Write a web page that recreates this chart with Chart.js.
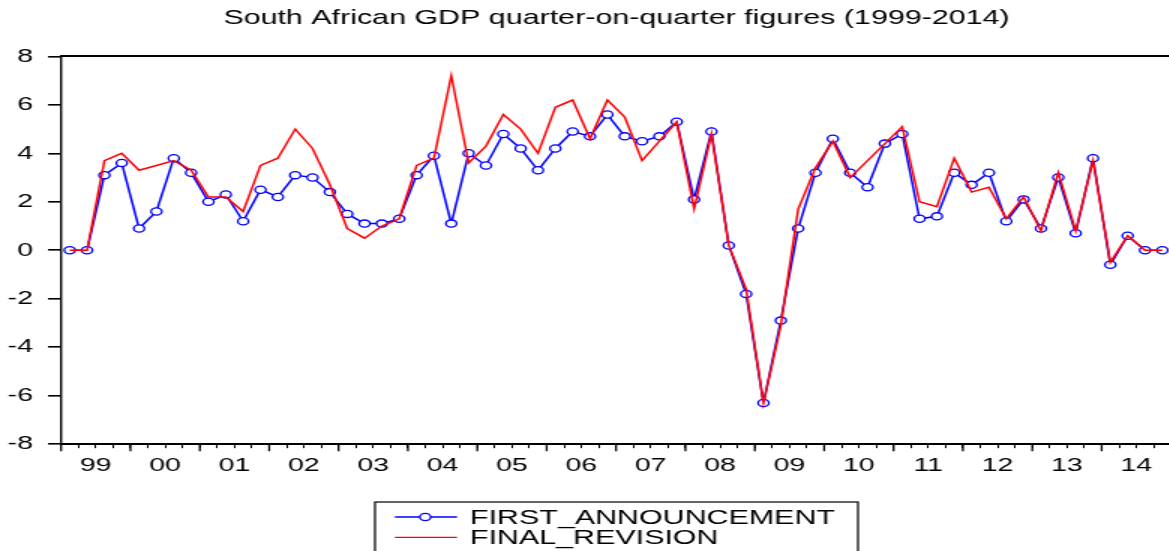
<!DOCTYPE html>
<html>
<head>
<meta charset="utf-8">
<script src="https://cdn.jsdelivr.net/npm/chart.js@4.4.0/dist/chart.umd.min.js"></script>
<style>
html, body { margin: 0; padding: 0; overflow: hidden; background: #fff; }
/* the original graph is stretched sideways, so the canvas is drawn narrow and widened */
#chart { display: block; width: 1233px !important; height: 551px !important; }
</style>
</head>
<body>
<canvas id="chart" width="822" height="551"></canvas>
<script>
var years = ['99', '00', '01', '02', '03', '04', '05', '06',
             '07', '08', '09', '10', '11', '12', '13', '14'];

var firstAnnouncement = [0.0, 0.0, 3.1, 3.6, 0.9, 1.6, 3.8, 3.2,
                         2.0, 2.3, 1.2, 2.5, 2.2, 3.1, 3.0, 2.4,
                         1.5, 1.1, 1.1, 1.3, 3.1, 3.9, 1.1, 4.0,
                         3.5, 4.8, 4.2, 3.3, 4.2, 4.9, 4.7, 5.6,
                         4.7, 4.5, 4.7, 5.3, 2.1, 4.9, 0.2, -1.8,
                         -6.3, -2.9, 0.9, 3.2, 4.6, 3.2, 2.6, 4.4,
                         4.8, 1.3, 1.4, 3.2, 2.7, 3.2, 1.2, 2.1,
                         0.9, 3.0, 0.7, 3.8, -0.6, 0.6, 0.0, 0.0];

var finalRevision = [0.0, 0.0, 3.7, 4.0, 3.3, 3.5, 3.7, 3.3,
                     2.2, 2.2, 1.6, 3.5, 3.8, 5.0, 4.2, 2.7,
                     0.9, 0.5, 1.0, 1.3, 3.5, 3.8, 7.2, 3.6,
                     4.3, 5.6, 5.0, 4.0, 5.9, 6.2, 4.6, 6.2,
                     5.5, 3.7, 4.5, 5.3, 1.7, 4.8, 0.2, -1.6,
                     -6.3, -3.1, 1.7, 3.4, 4.5, 3.0, 3.7, 4.4,
                     5.1, 2.0, 1.8, 3.8, 2.4, 2.6, 1.3, 2.2,
                     0.8, 3.2, 0.8, 3.7, -0.5, 0.6, 0.0, 0.0];

var yTicks = [-8, -6, -4, -2, 0, 2, 4, 6, 8];

// each quarter sits in the middle of its slot on the x axis
function quarters(values) {
  return values.map(function(v, i) { return {x: i + 0.5, y: v}; });
}

Chart.defaults.font.family = '"Liberation Sans", Arial, sans-serif';
Chart.defaults.color = '#000';

// longer tick marks at the year boundaries
var yearTicks = {
  id: 'yearTicks',
  afterDraw: function(chart) {
    var sc = chart.scales.x;
    var c = chart.ctx;
    c.save();
    c.strokeStyle = '#000';
    c.lineWidth = 1.3;
    for (var v = 0; v <= 64; v += 4) {
      var px = sc.getPixelForValue(v);
      c.beginPath();
      c.moveTo(px, sc.top);
      c.lineTo(px, sc.top + 7);
      c.stroke();
    }
    c.restore();
  }
};

// boxed legend with the two series stacked
var legendBox = {
  id: 'legendBox',
  afterDraw: function(chart) {
    var c = chart.ctx;
    c.save();
    c.strokeStyle = '#111';
    c.lineWidth = 1.3;
    c.strokeRect(250, 502, 322, 80);
    chart.data.datasets.forEach(function(ds, i) {
      var y = 517 + i * 20.3;
      c.strokeStyle = ds.borderColor;
      c.lineWidth = 1.3;
      c.beginPath();
      c.moveTo(263.3, y);
      c.lineTo(304.7, y);
      c.stroke();
      if (ds.pointRadius > 0) {
        c.beginPath();
        c.arc(283.5, y, ds.pointRadius, 0, Math.PI * 2);
        c.fillStyle = '#fff';
        c.fill();
        c.lineWidth = ds.pointBorderWidth;
        c.stroke();
      }
      c.fillStyle = '#000';
      c.font = '20.3px "Liberation Sans", Arial, sans-serif';
      c.textBaseline = 'middle';
      c.fillText(ds.label, 313.3, y + 1);
    });
    c.restore();
  }
};

var ctx = document.getElementById('chart').getContext('2d');
window.theChart = new Chart(ctx, {
  type: 'line',
  data: {
    datasets: [{
      label: 'FIRST_ANNOUNCEMENT',
      data: quarters(firstAnnouncement),
      borderColor: '#0000ff',
      borderWidth: 1.5,
      pointRadius: 3.6,
      pointBorderWidth: 1.3,
      pointBorderColor: '#0000ff',
      pointBackgroundColor: '#ffffff',
      tension: 0,
      order: 1
    }, {
      label: 'FINAL_REVISION',
      data: quarters(finalRevision),
      borderColor: '#ff0000',
      borderWidth: 1.5,
      pointRadius: 0,
      tension: 0,
      order: 0
    }]
  },
  options: {
    responsive: false,
    animation: false,
    devicePixelRatio: 1,
    layout: { padding: { left: 0, right: 0, top: 0, bottom: 72 } },
    plugins: {
      legend: { display: false },
      tooltip: { enabled: false },
      title: {
        display: true,
        text: 'South African GDP quarter-on-quarter figures (1999-2014)',
        color: '#000',
        font: { size: 20.3, weight: 'normal' },
        padding: { top: 6, bottom: 26 }
      }
    },
    scales: {
      x: {
        type: 'linear',
        position: 'bottom',
        min: 0,
        max: 64,
        grid: { drawOnChartArea: false, tickLength: 4, color: '#000', lineWidth: 1 },
        border: { color: '#000', width: 2 },
        ticks: {
          stepSize: 1,
          autoSkip: false,
          maxRotation: 0,
          padding: 6.5,
          font: { size: 19 },
          callback: function(value) {
            return value % 4 === 2 ? years[(value - 2) / 4] : '';
          }
        },
        afterFit: function(scale) { scale.height = 34.8; }
      },
      xTop: {
        type: 'linear',
        position: 'top',
        min: 0,
        max: 64,
        grid: { display: false, drawTicks: false },
        ticks: { display: false },
        border: { color: '#000', width: 2 },
        afterFit: function(scale) { scale.height = 0; }
      },
      y: {
        min: yTicks[0],
        max: yTicks[yTicks.length - 1],
        grid: { drawOnChartArea: false, tickLength: 8.7, color: '#000', lineWidth: 1.6 },
        border: { color: '#000', width: 1.4 },
        ticks: { stepSize: 2, padding: 10, font: { size: 19 } },
        afterFit: function(scale) { scale.width = 40.7; }
      },
      yRight: {
        position: 'right',
        min: yTicks[0],
        max: yTicks[yTicks.length - 1],
        grid: { display: false, drawTicks: false },
        ticks: { display: false },
        border: { display: false },
        afterFit: function(scale) { scale.width = 41.3; }
      }
    }
  },
  plugins: [yearTicks, legendBox]
});
</script>
</body>
</html>
